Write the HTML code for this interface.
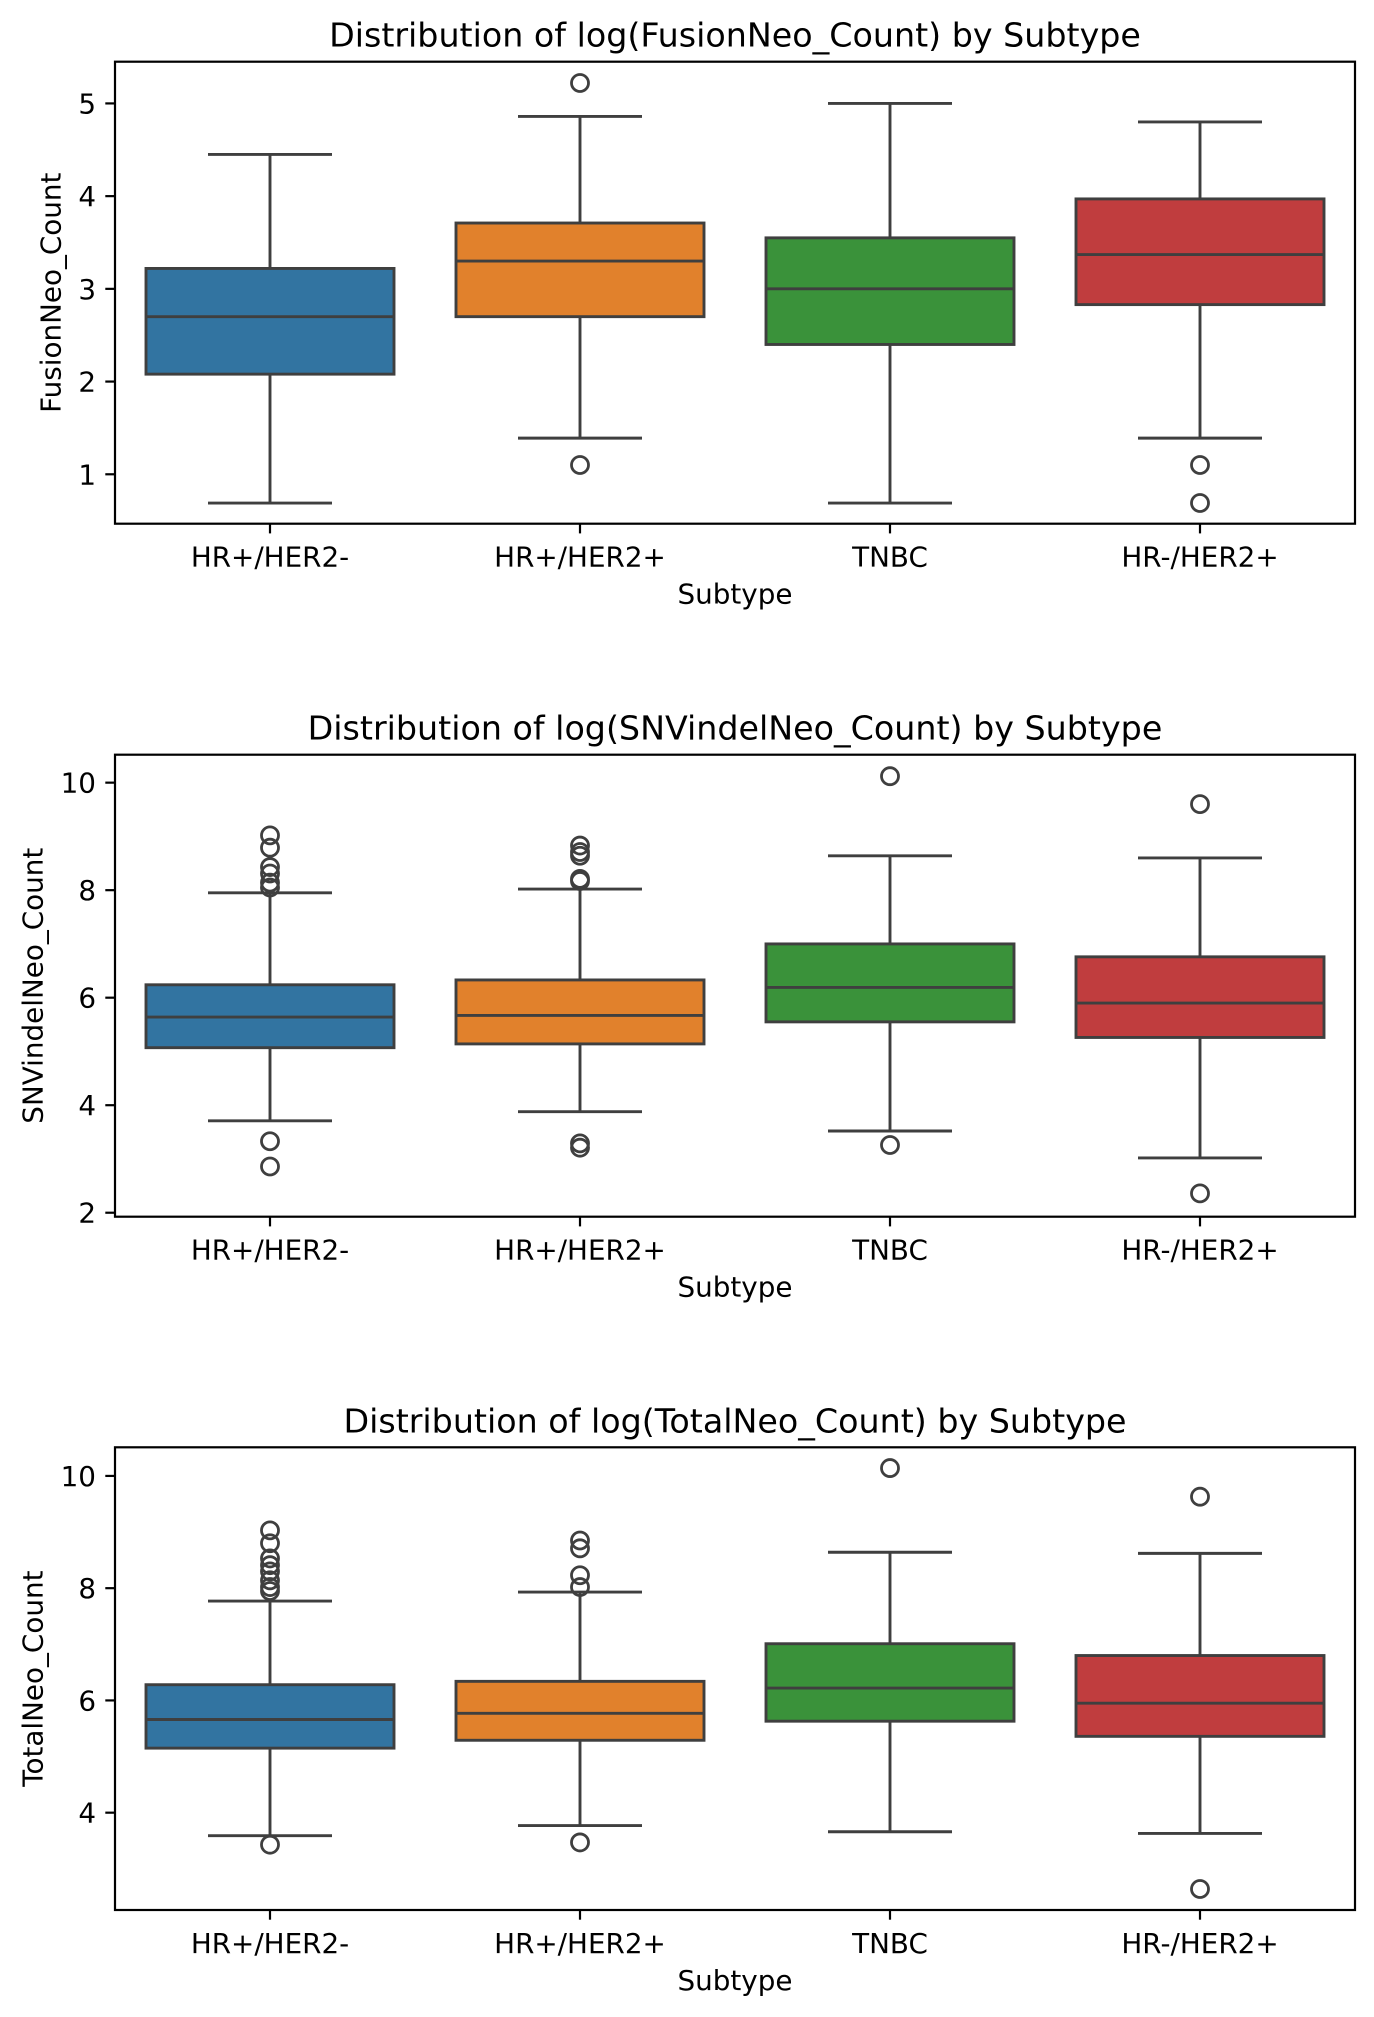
<!DOCTYPE html>
<html><head><meta charset="utf-8">
<style>
html,body{margin:0;padding:0;background:#fff;}
svg{display:block;}
text{font-family:"DejaVu Sans","Liberation Sans",sans-serif;fill:#000;}
</style></head>
<body>
<svg id="fig" width="1374" height="2017" viewBox="0 0 1374 2017" xmlns="http://www.w3.org/2000/svg"></svg>
<script>
const categories = ["HR+/HER2-", "HR+/HER2+", "TNBC", "HR-/HER2+"];
const colors = ["#3274a1", "#e1812c", "#3a923a", "#c03d3e"];

const fusionLowWhisker = [0.69, 1.39, 0.69, 1.39];
const fusionQ1 = [2.08, 2.70, 2.40, 2.83];
const fusionMedian = [2.70, 3.30, 3.00, 3.37];
const fusionQ3 = [3.22, 3.71, 3.55, 3.97];
const fusionHighWhisker = [4.45, 4.86, 5.00, 4.80];
const fusionOutliers = [[], [5.22, 1.10], [], [1.10, 0.69]];
const fusionTicks = [1, 2, 3, 4, 5];

const snvLowWhisker = [3.71, 3.88, 3.52, 3.02];
const snvQ1 = [5.07, 5.14, 5.55, 5.26];
const snvMedian = [5.64, 5.67, 6.19, 5.90];
const snvQ3 = [6.24, 6.33, 7.00, 6.76];
const snvHighWhisker = [7.95, 8.02, 8.64, 8.60];
const snvOutliers = [[9.02, 8.79, 8.43, 8.31, 8.14, 8.05, 3.33, 2.86], [8.83, 8.71, 8.64, 8.21, 8.17, 3.29, 3.21], [10.12, 3.26], [9.60, 2.36]];
const snvTicks = [2, 4, 6, 8, 10];

const totalLowWhisker = [3.59, 3.77, 3.66, 3.63];
const totalQ1 = [5.15, 5.29, 5.63, 5.36];
const totalMedian = [5.66, 5.77, 6.22, 5.95];
const totalQ3 = [6.28, 6.34, 7.01, 6.80];
const totalHighWhisker = [7.77, 7.93, 8.64, 8.62];
const totalOutliers = [[9.03, 8.80, 8.53, 8.41, 8.30, 8.14, 8.02, 7.95, 3.43], [8.85, 8.71, 8.23, 8.02, 3.47], [10.14], [9.63, 2.64]];
const totalTicks = [4, 6, 8, 10];

const panels = [
  {key:"fusion", title:"Distribution of log(FusionNeo_Count) by Subtype", ylabel:"FusionNeo_Count", top:61.7, bottom:523.7, dom:[0.467,5.45], ylx:51,
   lw:fusionLowWhisker,q1:fusionQ1,med:fusionMedian,q3:fusionQ3,hw:fusionHighWhisker,out:fusionOutliers,ticks:fusionTicks},
  {key:"snv", title:"Distribution of log(SNVindelNeo_Count) by Subtype", ylabel:"SNVindelNeo_Count", top:754.7, bottom:1216.7, dom:[1.926,10.52], ylx:33,
   lw:snvLowWhisker,q1:snvQ1,med:snvMedian,q3:snvQ3,hw:snvHighWhisker,out:snvOutliers,ticks:snvTicks},
  {key:"total", title:"Distribution of log(TotalNeo_Count) by Subtype", ylabel:"TotalNeo_Count", top:1447.3, bottom:1910, dom:[2.266,10.51], ylx:33,
   lw:totalLowWhisker,q1:totalQ1,med:totalMedian,q3:totalQ3,hw:totalHighWhisker,out:totalOutliers,ticks:totalTicks}
];

const NS = "http://www.w3.org/2000/svg";
const fig = document.getElementById("fig");
const L = 115, R = 1355;
const LC = "#3f3f3f";
function mk(tag, attrs, parent){
  const e = document.createElementNS(NS, tag);
  for (const k in attrs) e.setAttribute(k, attrs[k]);
  parent.appendChild(e);
  return e;
}
const bandW = (R - L) / categories.length;
function xScale(i){ return L + bandW * (i + 0.5); }

panels.forEach(p => {
  const g = mk("g", {}, fig);
  
  
  const y = v => p.bottom - (v - p.dom[0]) / (p.dom[1] - p.dom[0]) * (p.bottom - p.top);

  const t = mk("text", {x:(L+R)/2, y:p.top-15, "text-anchor":"middle", "font-size":"33.3"}, g);
  t.textContent = p.title;
  
  

  categories.forEach((c, i) => {
    const cx = xScale(i), bw = bandW*0.8, cw = bw*0.5;
    const bg = mk("g", {}, g);
    
    
    mk("line", {x1:cx, x2:cx, y1:y(p.q3[i]), y2:y(p.hw[i]), stroke:LC, "stroke-width":2.9}, bg);
    mk("line", {x1:cx, x2:cx, y1:y(p.q1[i]), y2:y(p.lw[i]), stroke:LC, "stroke-width":2.9}, bg);
    mk("line", {x1:cx-cw/2, x2:cx+cw/2, y1:y(p.hw[i]), y2:y(p.hw[i]), stroke:LC, "stroke-width":2.9}, bg);
    mk("line", {x1:cx-cw/2, x2:cx+cw/2, y1:y(p.lw[i]), y2:y(p.lw[i]), stroke:LC, "stroke-width":2.9}, bg);
    mk("rect", {x:cx-bw/2, y:y(p.q3[i]), width:bw, height:y(p.q1[i])-y(p.q3[i]), fill:colors[i], stroke:LC, "stroke-width":2.9}, bg);
    mk("line", {x1:cx-bw/2, x2:cx+bw/2, y1:y(p.med[i]), y2:y(p.med[i]), stroke:LC, "stroke-width":2.9}, bg);
    p.out[i].forEach(v => {
      const o = mk("circle", {cx:cx, cy:y(v), r:8.5, fill:"none", stroke:LC, "stroke-width":2.8}, bg);
      
      
    });
    mk("line", {x1:cx, x2:cx, y1:p.bottom, y2:p.bottom+9.7, stroke:"#000", "stroke-width":2.2}, g);
    const xl = mk("text", {x:cx, y:p.bottom+43, "text-anchor":"middle", "font-size":"27.8"}, g);
    xl.textContent = c;
    
    
  });

  p.ticks.forEach(v => {
    mk("line", {x1:L-9.7, x2:L, y1:y(v), y2:y(v), stroke:"#000", "stroke-width":2.2}, g);
    const yl = mk("text", {x:L-19, y:y(v)+10, "text-anchor":"end", "font-size":"27.8"}, g);
    yl.textContent = String(v);
    
    
  });

  const frame = mk("rect", {x:L, y:p.top, width:R-L, height:p.bottom-p.top, fill:"none", stroke:"#000", "stroke-width":2.2}, g);
  
  

  const xt = mk("text", {x:(L+R)/2, y:p.bottom+80, "text-anchor":"middle", "font-size":"27.8"}, g);
  xt.textContent = "Subtype";
  
  

  const my = (p.top+p.bottom)/2;
  const yt = mk("text", {x:p.ylx, y:my, "text-anchor":"middle", "dominant-baseline":"central", "font-size":"27.8", transform:"rotate(-90 "+p.ylx+" "+my+")"}, g);
  yt.textContent = p.ylabel;
  
  
});
</script>
</body></html>
